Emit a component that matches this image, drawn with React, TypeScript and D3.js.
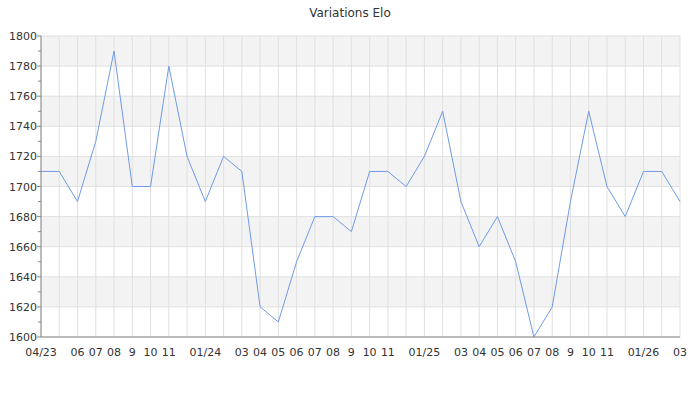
import React from "react";
import * as d3 from "d3";

const months = [
  "04/23","05","06","07","08","9","10","11","12","01/24","02","03",
  "04","05","06","07","08","9","10","11","12","01/25","02","03",
  "04","05","06","07","08","9","10","11","12","01/26","02","03",
];
const hiddenLabels = [1, 8, 10, 20, 22, 32, 34];
const elo = [
  1710, 1710, 1690, 1730, 1790, 1700, 1700, 1780, 1720, 1690, 1720, 1710,
  1620, 1610, 1650, 1680, 1680, 1670, 1710, 1710, 1700, 1720, 1750, 1690,
  1660, 1680, 1650, 1600, 1620, 1690, 1750, 1700, 1680, 1710, 1710, 1690,
];
const yTicks = [1600, 1620, 1640, 1660, 1680, 1700, 1720, 1740, 1760, 1780, 1800];
const title = "Variations Elo";

export default function App() {
  const W = 700, H = 400;
  const left = 41, right = 680, top = 36, bottom = 337;
  const x = d3.scaleLinear().domain([0, months.length - 1]).range([left, right]);
  const y = d3.scaleLinear().domain([1600, 1800]).range([bottom, top]);
  const line = d3.line<number>().x((_, i) => x(i)).y((d) => y(d));
  const minor = d3.range(1610, 1800, 20);
  const font = "DejaVu Sans, sans-serif";
  return (
    <svg width={W} height={H} style={{ position: "absolute", left: 0, top: 0 }}>
      <rect x={0} y={0} width={W} height={H} fill="#fff" />
      <text x={350} y={17} textAnchor="middle" fontFamily={font} fontSize={12} fill="#333">{title}</text>
      {yTicks.slice(0, -1).map((t, i) =>
        i % 2 === 1 ? null : null
      )}
      {yTicks.slice(0, -1).map((t) => {
        const band = (t - 1600) / 20;
        return band % 2 === 1 ? (
          <rect key={"b" + t} x={left} y={y(t + 20)} width={right - left} height={y(t) - y(t + 20)} fill="#f3f3f3" />
        ) : null;
      })}
      {months.map((_, i) => (
        <line key={"vg" + i} x1={x(i)} x2={x(i)} y1={top} y2={bottom} stroke="#e0e0e0" strokeWidth={1} />
      ))}
      {yTicks.map((t) => (
        <line key={"hg" + t} x1={left} x2={right} y1={y(t)} y2={y(t)} stroke="#e0e0e0" strokeWidth={1} />
      ))}
      <path d={line(elo) || ""} fill="none" stroke="#6f9be8" strokeWidth={1} />
      <line x1={left} x2={left} y1={top} y2={bottom} stroke="#888" />
      <line x1={left} x2={right} y1={bottom} y2={bottom} stroke="#888" />
      {yTicks.map((t) => (
        <g key={"yt" + t}>
          <line x1={left - 4} x2={left} y1={y(t)} y2={y(t)} stroke="#888" />
          <text x={37} y={y(t) + 4} textAnchor="end" fontFamily={font} fontSize={11} fill="#333">{t}</text>
        </g>
      ))}
      {minor.map((t) => (
        <line key={"mt" + t} x1={left - 3} x2={left} y1={y(t)} y2={y(t)} stroke="#888" />
      ))}
      {months.map((m, i) =>
        hiddenLabels.includes(i) ? null : (
          <text key={"xl" + i} x={x(i)} y={356} textAnchor="middle" fontFamily={font} fontSize={11} fill="#333">{m}</text>
        )
      )}
    </svg>
  );
}
